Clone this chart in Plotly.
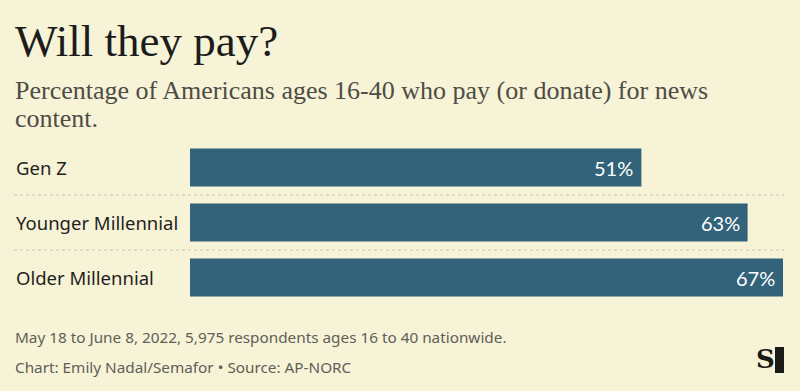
import plotly.graph_objects as go

categories = ["Gen Z", "Younger Millennial", "Older Millennial"]
values = [51, 63, 67]
value_labels = ["51%", "63%", "67%"]

BG = "#f7f3d7"
BAR = "#32637a"

W, H = 800, 391
ML, MR, MT, MB = 190, 17, 140, 86
PW = W - ML - MR
PH = H - MT - MB

def px_x(x):
    return (x - ML) / PW

def px_y(y):
    return (H - MB - y) / PH

fig = go.Figure(go.Bar(
    x=values, y=categories, orientation="h",
    marker=dict(color=BAR, line=dict(width=0)),
    width=0.69, hoverinfo="skip",
))

ann = []
def txt(text, xp, yp, family, size, color, anchor="left"):
    ann.append(dict(text=text, x=px_x(xp), y=px_y(yp), xref="paper", yref="paper",
                    xanchor=anchor, yanchor="middle", showarrow=False, align="left",
                    font=dict(family=family, size=size, color=color)))

txt("Will they pay?", 13, 41, "Liberation Serif", 45, "#1c1c1a")
txt("Percentage of Americans ages 16-40 who pay (or donate) for news", 13, 90, "Liberation Serif", 26, "#4d4c46")
txt("content.", 13, 118, "Liberation Serif", 26, "#4d4c46")
txt("May 18 to June 8, 2022, 5,975 respondents ages 16 to 40 nationwide.", 13, 337, "Noto Sans", 15.3, "#5f5e58")
txt("Chart: Emily Nadal/Semafor • Source: AP-NORC", 13, 367, "Noto Sans", 15.3, "#5f5e58")

for c, v, lab in zip(categories, values, value_labels):
    ann.append(dict(text=c, x=px_x(14), y=c, xref="paper", yref="y",
                    xanchor="left", yanchor="middle", showarrow=False,
                    font=dict(family="Noto Sans", size=18.5, color="#1f1f1c")))
    ann.append(dict(text=lab, x=v, y=c, xref="x", yref="y", xshift=-6,
                    xanchor="right", yanchor="middle", showarrow=False,
                    font=dict(family="Lato", size=20, color="#ffffff")))
# logo S
txt("<b>S</b>", 777, 359, "DejaVu Serif", 26, "#1a1a16", anchor="right")

shapes = []
for yy in [0.5, 1.5]:
    shapes.append(dict(type="line", xref="paper", yref="y", x0=px_x(14), x1=px_x(784),
                       y0=yy, y1=yy, line=dict(color="#c9c5ab", width=1, dash="dot")))
shapes.append(dict(type="rect", xref="paper", yref="paper", x0=px_x(775), x1=px_x(784),
                   y0=px_y(373), y1=px_y(347), fillcolor="#1a1a16", line=dict(width=0)))

fig.update_layout(
    width=W, height=H,
    margin=dict(l=ML, r=MR, t=MT, b=MB, pad=0),
    paper_bgcolor=BG, plot_bgcolor=BG,
    showlegend=False,
    xaxis=dict(range=[0, 67], visible=False, fixedrange=True),
    yaxis=dict(autorange="reversed", visible=False, fixedrange=True, type="category"),
    annotations=ann, shapes=shapes,
)

fig.write_html("out.html", config={"displayModeBar": False},
               post_script="document.body.style.margin='0';document.body.style.background='" + BG + "';")
